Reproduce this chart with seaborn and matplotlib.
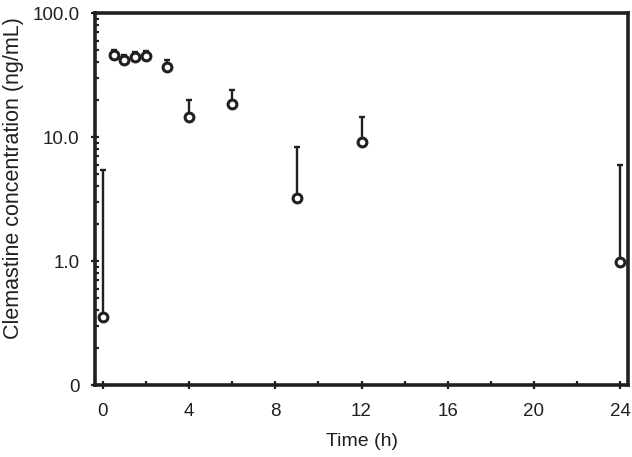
import numpy as np
import matplotlib
matplotlib.use("Agg")
import matplotlib.pyplot as plt
import matplotlib.ticker as mticker
import seaborn as sns
import pandas as pd

# data
time_h = [0, 0.5, 1, 1.5, 2, 3, 4, 6, 9, 12, 24]
conc_mean = [0.353, 45.8, 41.8, 44.0, 45.0, 36.7, 14.5, 18.5, 3.22, 9.2, 0.98]
conc_upper = [5.4, 50.5, 46.0, 48.5, 49.5, 41.7, 19.9, 23.9, 8.3, 14.4, 6.0]

ytick_vals = [0.1, 1, 10, 100]
ytick_labels = ["0", "1.0", "10.0", "100.0"]
xtick_vals = [0, 4, 8, 12, 16, 20, 24]

df = pd.DataFrame({"time": time_h, "conc": conc_mean, "upper": conc_upper})

ink = "#231f20"
sns.set_style("ticks")
plt.rcParams["font.family"] = ["Liberation Sans", "DejaVu Sans"]

fig = plt.figure(figsize=(6.32, 4.57), dpi=100)
ax = fig.add_axes([0.150, 0.1575, 0.844, 0.814])

# upper-only error bars
yerr = np.vstack([np.zeros(len(df)), df["upper"] - df["conc"]])
ax.errorbar(df["time"], df["conc"], yerr=yerr, fmt="none", ecolor=ink,
            elinewidth=1.7, capsize=2.5, capthick=1.7, zorder=2)
sns.scatterplot(data=df, x="time", y="conc", ax=ax, marker="o", s=40,
                facecolor="white", edgecolor=ink, linewidth=2.2, zorder=3)

ax.set_yscale("log")
ax.set_ylim(0.1, 100)
ax.set_xlim(-0.37, 24.37)
ax.set_yticks(ytick_vals)
ax.set_yticklabels(ytick_labels)
ax.yaxis.set_minor_locator(mticker.LogLocator(base=10, subs=np.arange(2, 10)))
ax.yaxis.set_minor_formatter(mticker.NullFormatter())
ax.set_xticks(xtick_vals)
ax.xaxis.set_minor_locator(mticker.MultipleLocator(2))

ax.tick_params(axis="both", which="major", direction="inout", length=6,
               width=1.6, color=ink, labelcolor=ink, labelsize=13.5)
ax.tick_params(axis="both", which="minor", direction="in", length=3,
               width=1.6, color=ink)
ax.tick_params(axis="x", which="major", pad=10)
ax.tick_params(axis="y", which="major", pad=8)

for side in ["left", "right", "top", "bottom"]:
    ax.spines[side].set_visible(True)
    ax.spines[side].set_linewidth(2.6)
    ax.spines[side].set_color(ink)

ax.set_xlabel("Time (h)", fontsize=14, color=ink, labelpad=9)
ax.set_ylabel("Clemastine concentration (ng/mL)", fontsize=15.5, color=ink)
ax.yaxis.set_label_coords(-0.133, 0.556)

fig.savefig("out.png", dpi=100)
